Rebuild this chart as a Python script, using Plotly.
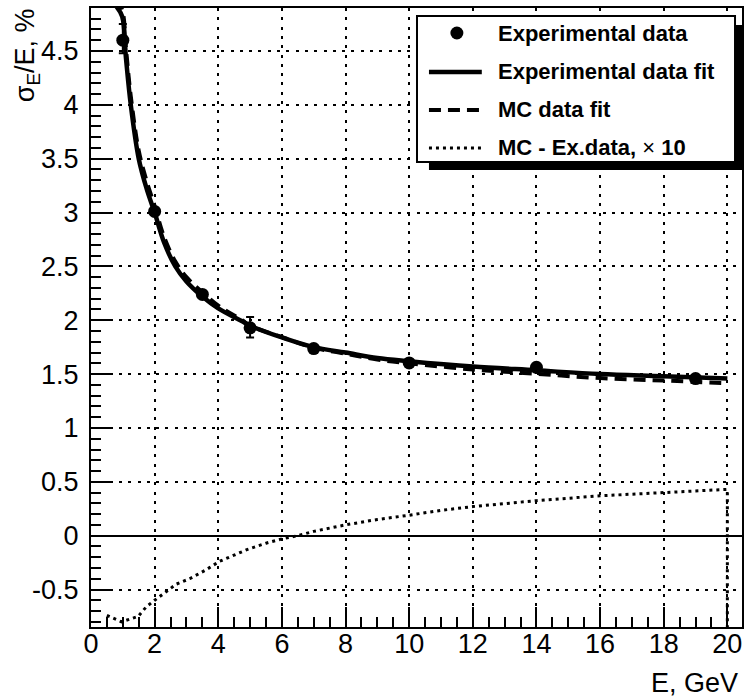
import plotly.graph_objects as go

# Measured energy resolution (points with asymmetric errors)
energy = [1, 2, 3.5, 5, 7, 10, 14, 19]
resolution = [4.60, 3.01, 2.24, 1.93, 1.737, 1.604, 1.563, 1.458]
err_plus = [0.15, 0.03, 0.03, 0.10, 0.02, 0.02, 0.02, 0.02]
err_minus = [0.12, 0.03, 0.03, 0.09, 0.02, 0.02, 0.02, 0.02]

# Fit curves sampled along E
fit_e = [0.78, 0.98, 1.1, 1.25, 1.5, 1.75, 2.0, 2.3, 2.65, 3.0, 3.5, 4.0, 4.75,
         5.0, 6.0, 7.0, 8.0, 9.0, 10, 12, 14, 16, 18, 20]
fit_exp = [4.92, 4.82, 4.43, 4.0, 3.5, 3.22, 3.0, 2.72, 2.50, 2.36, 2.22, 2.11, 1.99,
           1.95, 1.84, 1.75, 1.70, 1.65, 1.62, 1.57, 1.535, 1.50, 1.48, 1.458]
fit_mc = [4.98, 4.88, 4.52, 4.08, 3.575, 3.29, 3.06, 2.77, 2.545, 2.40, 2.26, 2.135, 2.0,
          1.95, 1.843, 1.746, 1.69, 1.635, 1.60, 1.543, 1.503, 1.463, 1.44, 1.415]

# Difference MC - data, scaled by 10
diff_e = [0.5, 0.96, 1.48, 1.74, 2.0, 2.36, 2.68, 3.1, 3.6, 4.03, 4.9, 5.5, 6.0, 6.5,
          7, 8, 9, 10, 11, 12, 13, 14, 16, 18, 19.75, 20, 20]
diff_x10 = [-0.74, -0.80, -0.75, -0.66, -0.60, -0.52, -0.45, -0.40, -0.32, -0.24, -0.13,
            -0.07, -0.03, 0.0, 0.04, 0.10, 0.15, 0.19, 0.235, 0.27, 0.30, 0.325, 0.37,
            0.40, 0.425, 0.43, -1.0]

x_ticks = [0, 2, 4, 6, 8, 10, 12, 14, 16, 18, 20]
y_ticks = [-0.5, 0, 0.5, 1, 1.5, 2, 2.5, 3, 3.5, 4, 4.5]
y_labels = ["-0.5", "0", "0.5", "1", "1.5", "2", "2.5", "3", "3.5", "4", "4.5"]

legend_labels = ["Experimental data", "Experimental data fit", "MC data fit",
                 "MC - Ex.data, \u00d7 10"]

FONT = "Liberation Sans, Arial, Helvetica, sans-serif"
W, H = 745, 700
ML, MR, MT, MB = 91, 1, 8, 73
PW, PH = W - ML - MR, H - MT - MB


def px(x):
    return (x - ML) / PW


def py(y):
    return (H - MB - y) / PH


fig = go.Figure()

fig.add_trace(go.Scatter(x=diff_e, y=diff_x10, mode="lines",
                         line=dict(color="black", width=3, dash="3px,4px"),
                         hoverinfo="skip"))
fig.add_trace(go.Scatter(x=fit_e, y=fit_mc, mode="lines", line_shape="spline",
                         line=dict(color="black", width=4, dash="12px,7px"),
                         hoverinfo="skip"))
fig.add_trace(go.Scatter(x=fit_e, y=fit_exp, mode="lines", line_shape="spline",
                         line=dict(color="black", width=4.5),
                         hoverinfo="skip"))
fig.add_trace(go.Scatter(x=energy, y=resolution, mode="markers",
                         marker=dict(color="black", size=13, symbol="circle"),
                         error_y=dict(type="data", symmetric=False, array=err_plus,
                                      arrayminus=err_minus, color="black",
                                      thickness=2, width=4),
                         cliponaxis=True))

axis_common = dict(
    showline=True, linecolor="black", linewidth=2, mirror=True,
    ticks="inside", ticklen=20, tickwidth=2, tickcolor="black",
    showgrid=True, gridcolor="black", gridwidth=2, griddash="3px,6.3px",
    tickfont=dict(family=FONT, size=27, color="black"),
)

fig.update_xaxes(range=[0, 20.46], tickvals=x_ticks, zeroline=False,
                 minor=dict(dtick=0.5, tick0=0, ticklen=10, tickwidth=2,
                            tickcolor="black", ticks="inside", showgrid=False),
                 ticklabelstandoff=-8, **axis_common)
fig.update_yaxes(range=[-0.848, 4.899], tickvals=y_ticks, ticktext=y_labels,
                 zeroline=True, zerolinecolor="black", zerolinewidth=2,
                 minor=dict(dtick=0.1, tick0=0, ticklen=10, tickwidth=2,
                            tickcolor="black", ticks="inside", showgrid=False),
                 ticklabelstandoff=5, **axis_common)

shapes = []
annotations = []

# Legend box with shadow
shapes.append(dict(type="rect", xref="paper", yref="paper", layer="above",
                   x0=px(430), x1=px(746), y0=py(170), y1=py(25),
                   fillcolor="black", line=dict(width=0)))
shapes.append(dict(type="rect", xref="paper", yref="paper", layer="above",
                   x0=px(418), x1=px(737), y0=py(162), y1=py(16),
                   fillcolor="white", line=dict(color="black", width=2)))

rows = [33, 72, 110, 148]
shapes.append(dict(type="circle", xref="paper", yref="paper", layer="above",
                   x0=px(458 - 6.5), x1=px(458 + 6.5),
                   y0=py(rows[0] + 6.5), y1=py(rows[0] - 6.5),
                   fillcolor="black", line=dict(width=0)))
shapes.append(dict(type="line", xref="paper", yref="paper", layer="above",
                   x0=px(430), x1=px(483), y0=py(rows[1]), y1=py(rows[1]),
                   line=dict(color="black", width=4.5)))
shapes.append(dict(type="line", xref="paper", yref="paper", layer="above",
                   x0=px(430), x1=px(487), y0=py(rows[2]), y1=py(rows[2]),
                   line=dict(color="black", width=4, dash="12px,7px")))
shapes.append(dict(type="line", xref="paper", yref="paper", layer="above",
                   x0=px(430), x1=px(483), y0=py(rows[3]), y1=py(rows[3]),
                   line=dict(color="black", width=3, dash="3px,4px")))

for label, row in zip(legend_labels, rows):
    if "\u00d7" in label:
        head, tail = label.split("\u00d7")
        text = "<b>" + head + "</b>\u00d7<b>" + tail + "</b>"
    else:
        text = "<b>" + label + "</b>"
    annotations.append(dict(xref="paper", yref="paper", x=px(497), y=py(row),
                            xanchor="left", yanchor="middle", text=text,
                            showarrow=False,
                            font=dict(family=FONT, size=22, color="black")))

# Axis titles
annotations.append(dict(xref="paper", yref="paper", x=px(742), y=py(683),
                        xanchor="right", yanchor="middle", text="E, GeV",
                        showarrow=False,
                        font=dict(family=FONT, size=27, color="black")))
annotations.append(dict(xref="paper", yref="paper", x=px(27), y=py(6),
                        xanchor="center", yanchor="top", textangle=-90,
                        text="\u03c3<sub>E</sub>/E, %", showarrow=False,
                        font=dict(family=FONT, size=27, color="black")))

fig.update_layout(
    width=W, height=H,
    margin=dict(l=ML, r=MR, t=MT, b=MB, pad=0),
    paper_bgcolor="white", plot_bgcolor="white",
    showlegend=False,
    shapes=shapes, annotations=annotations,
    font=dict(family=FONT, color="black"),
)

fig.write_html("out.html")
